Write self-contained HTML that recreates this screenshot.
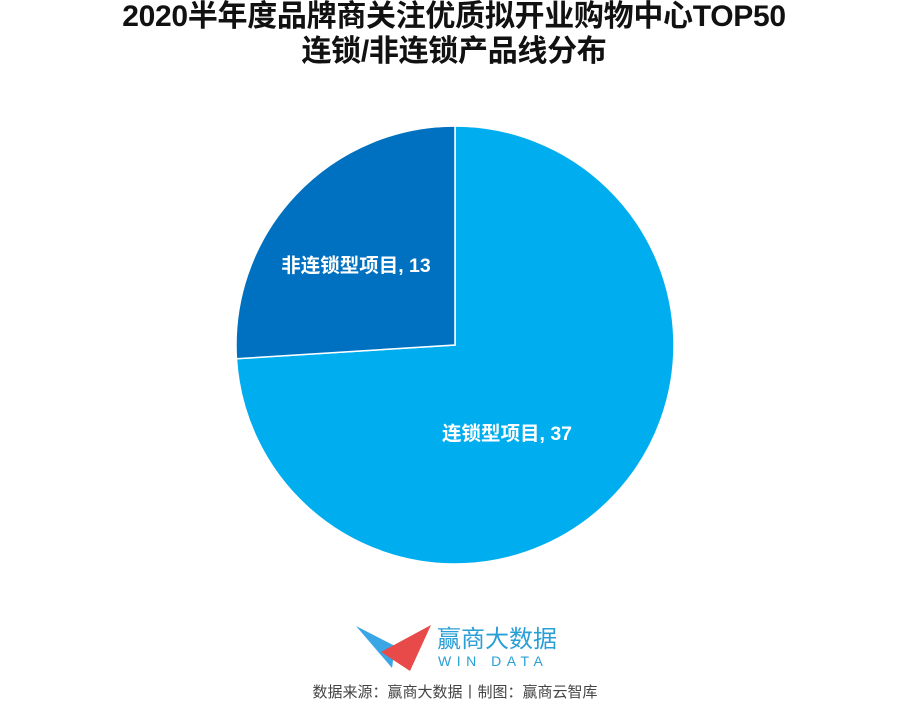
<!DOCTYPE html>
<html><head><meta charset="utf-8"><style>
body{margin:0;width:908px;height:702px;background:#fff;overflow:hidden;font-family:"Liberation Sans","Noto Sans CJK SC",sans-serif}
.t{position:absolute;left:0;width:908px;text-align:center;font-weight:bold;font-size:30px;line-height:34px;color:#111;letter-spacing:-0.3px}
</style></head><body>
<div class="t" style="top:0px">2020半年度品牌商关注优质拟开业购物中心TOP50</div>
<div class="t" style="top:35px">连锁/非连锁产品线分布</div>
<svg id="pie" width="908" height="702" style="position:absolute;left:0;top:0"></svg>
<svg width="908" height="702" style="position:absolute;left:0;top:0">
<polygon points="356,626 395,646 392,668" fill="#3aa6e6"/>
<polygon points="381,652 431,625 410,671" fill="#e84a4a"/>
<text x="437" y="647" font-size="24" fill="#2a9fd6" font-family="Liberation Sans,Noto Sans CJK SC,sans-serif">赢商大数据</text>
<text x="438" y="666" font-size="14" fill="#2a9fd6" letter-spacing="5.5" font-family="Liberation Sans,sans-serif">WIN DATA</text>
<text x="455" y="697" font-size="15" fill="#444" text-anchor="middle" font-family="Liberation Sans,Noto Sans CJK SC,sans-serif">数据来源：赢商大数据丨制图：赢商云智库</text>
</svg>
<script>
const categories=["连锁型项目","非连锁型项目"];
const values=[37,13];
const colors=["#00aeef","#0070c0"];
const cx=455,cy=345,r=219;
const svg=document.getElementById('pie');
const ns="http://www.w3.org/2000/svg";
const total=values.reduce((a,b)=>a+b,0);
let a0=0;
values.forEach((v,i)=>{
  const a1=a0+v/total*2*Math.PI;
  const p=(a)=>[cx+r*Math.sin(a),cy-r*Math.cos(a)];
  const [x0,y0]=p(a0),[x1,y1]=p(a1);
  const path=document.createElementNS(ns,'path');
  path.setAttribute('d',`M${cx},${cy}L${x0},${y0}A${r},${r} 0 ${a1-a0>Math.PI?1:0} 1 ${x1},${y1}Z`);
  path.setAttribute('fill',colors[i]);
  path.setAttribute('stroke','#fff');
  path.setAttribute('stroke-width','1.5');
  
  
  svg.appendChild(path);
  const m=(a0+a1)/2,lr=r*0.52;
  const t=document.createElementNS(ns,'text');
  t.setAttribute('x',cx+lr*Math.sin(m)-(i===0?31:16));
  t.setAttribute('y',cy-lr*Math.cos(m)+(i===0?17:5));
  t.setAttribute('text-anchor','middle');
  t.setAttribute('fill','#fff');
  t.setAttribute('font-size','19.5');
  t.setAttribute('font-weight','bold');
  t.textContent=categories[i]+', '+v;
  
  
  svg.appendChild(t);
  a0=a1;
});
</script>
</body></html>
